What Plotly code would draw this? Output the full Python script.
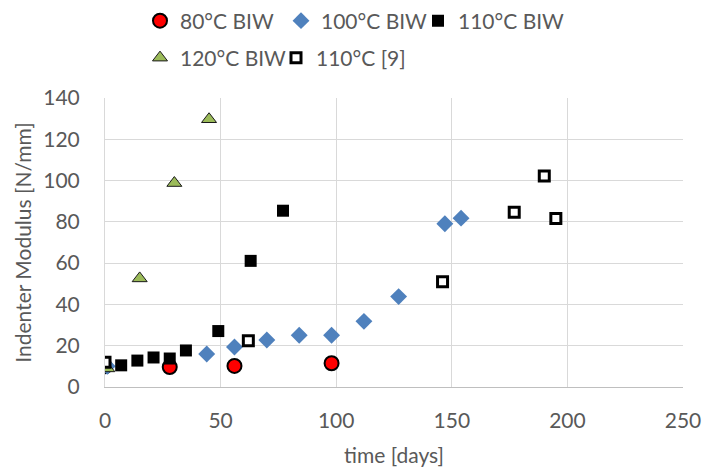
import plotly.graph_objects as go

x80 = [0, 28, 56, 98]
y80 = [10, 9.7, 10.2, 11.5]

x100 = [1, 44, 56, 70, 84, 98, 112, 127, 147, 154]
y100 = [10, 16.0, 19.4, 22.8, 25.1, 25.1, 31.8, 43.8, 79.1, 81.8]

x110 = [0, 7, 14, 21, 28, 35, 49, 63, 77]
y110 = [11, 10.5, 12.8, 14.3, 13.8, 17.7, 27.1, 61.1, 85.4]

x120 = [1, 15, 30, 45]
y120 = [9, 52.6, 98.8, 129.7]

x110ref = [0, 62, 146, 177, 190, 195]
y110ref = [12, 22.4, 51.0, 84.7, 102.2, 81.6]

xticks = [0, 50, 100, 150, 200, 250]
yticks = [0, 20, 40, 60, 80, 100, 120, 140]

FONT = "Lato"
GREY = "#595959"
FS = 21
W, H = 704, 468

fig = go.Figure()
fig.add_trace(go.Scatter(x=x80, y=y80, mode="markers", name="80°C BIW",
                         marker=dict(symbol="circle", size=14, color="#ff0000",
                                     line=dict(color="black", width=2)),
                         legend="legend", showlegend=True))
fig.add_trace(go.Scatter(x=x100, y=y100, mode="markers", name="100°C BIW",
                         marker=dict(symbol="diamond", size=13, color="#4f81bd",
                                     line=dict(color="#4f81bd", width=0)),
                         legend="legend2", showlegend=True))
fig.add_trace(go.Scatter(x=x110, y=y110, mode="markers", name="110°C BIW",
                         marker=dict(symbol="square", size=12, color="black",
                                     line=dict(color="black", width=0)),
                         legend="legend3", showlegend=True))
fig.add_trace(go.Scatter(x=x120, y=y120, mode="markers", name="120°C BIW",
                         marker=dict(symbol="triangle-up", size=13, color="#9bbb59",
                                     line=dict(color="#1a1a1a", width=1)),
                         legend="legend4", showlegend=True))
fig.add_trace(go.Scatter(x=x110ref, y=y110ref, mode="markers", name="110°C [9]",
                         marker=dict(symbol="square", size=10, color="white",
                                     line=dict(color="black", width=3)),
                         legend="legend5", showlegend=True))


def leg(xpx, ypx):
    return dict(orientation="h", xref="container", yref="container",
                x=xpx / W, y=1 - ypx / H, xanchor="left", yanchor="middle",
                font=dict(family=FONT, size=FS, color=GREY),
                bgcolor="rgba(0,0,0,0)", itemwidth=30, visible=True)


fig.update_layout(
    width=W, height=H,
    showlegend=True,
    margin=dict(l=105, r=21, t=98, b=81, autoexpand=False),
    paper_bgcolor="white", plot_bgcolor="white",
    font=dict(family=FONT, color=GREY),
    legend=leg(140, 21),
    legend2=leg(281, 21),
    legend3=leg(418, 21),
    legend4=leg(140, 58),
    legend5=leg(276, 58),
    xaxis=dict(range=[0, 250], tickvals=xticks, showgrid=True, gridcolor="#d9d9d9",
               gridwidth=1, zeroline=False, showline=True, linecolor="#bfbfbf",
               linewidth=1, ticks="", automargin=False, ticklabelstandoff=15,
               tickfont=dict(family=FONT, size=FS, color=GREY),
               title=dict(text="time [days]", font=dict(family=FONT, size=FS, color=GREY),
                          standoff=17)),
    yaxis=dict(range=[0, 140], tickvals=yticks, showgrid=True, gridcolor="#d9d9d9",
               gridwidth=1, zeroline=False, showline=True, linecolor="#d9d9d9",
               linewidth=1, ticks="", ticklabelstandoff=20, automargin=False,
               tickfont=dict(family=FONT, size=FS, color=GREY),
               title=dict(text="Indenter Modulus [N/mm]",
                          font=dict(family=FONT, size=FS, color=GREY), standoff=5)),
)

fig.write_html("out.html", config={"displayModeBar": False},
               post_script="document.body.style.margin='0';")
